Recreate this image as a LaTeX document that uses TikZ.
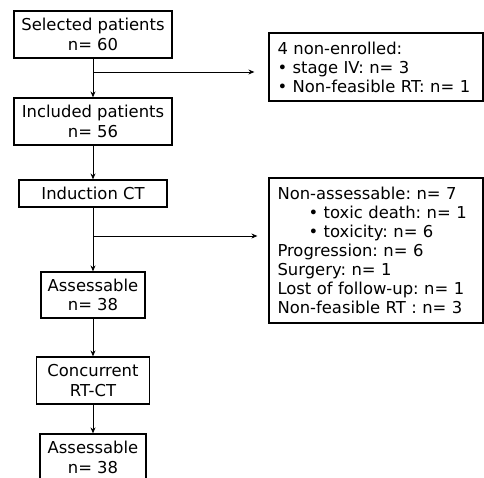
\documentclass[tikz,border=0pt]{standalone}
\usepackage{fontspec}
\setmainfont{DejaVu Sans}
\usetikzlibrary{arrows.meta}
\frenchspacing

\tikzset{
  stagebox/.style={draw, line width=1.2pt, align=center, inner sep=0pt,
    font=\fontsize{16.4}{19.5}\selectfont},
  notebox/.style={draw, line width=1.2pt, align=left, inner sep=0pt,
    text width=197pt, minimum width=214pt, font=\fontsize{16.4}{19}\selectfont},
  flow/.style={-{Stealth[length=6pt,width=5pt]}, line width=0.9pt},
}

\begin{document}
\begin{tikzpicture}[x=1pt, y=-1pt]
        \useasboundingbox (0,0) rectangle (484,477);
        \clip (0,0) rectangle (484,477);

        % main flow
        \node[stagebox, minimum width=158pt, minimum height=47pt] (sel) at (93, 34.5) {Selected patients\\n= 60};
        \node[stagebox, minimum width=158pt, minimum height=47pt] (inc) at (93, 121.5) {Included patients\\n= 56};
        \node[stagebox, minimum width=148pt, minimum height=27pt] (ind) at (93, 193.5) {Induction CT};
        \node[stagebox, minimum width=104pt, minimum height=46pt] (ass1) at (93, 295) {Assessable\\n= 38};
        \node[stagebox, minimum width=113pt, minimum height=47pt] (conc) at (93, 380.5) {Concurrent\\RT-CT};
        \node[stagebox, minimum width=106pt, minimum height=47pt] (ass2) at (93, 457.5) {Assessable\\n= 38};

        % side boxes
        \node[notebox, minimum height=68pt] (nonenr) at (376, 67) {4 non-enrolled:\\
            • stage IV: n= 3\\
            • Non-feasible RT: n= 1};
        \node[notebox, minimum height=145pt] (nonass) at (376, 250.5) {Non-assessable: n= 7\\
            \hspace*{31pt}• toxic death: n= 1\\
            \hspace*{31pt}• toxicity: n= 6\\
            Progression: n= 6\\
            Surgery: n= 1\\
            Lost of follow-up: n= 1\\
            Non-feasible RT : n= 3};

        \coordinate (br1) at (93, 72);
        \coordinate (br2) at (93, 236);

        \draw[flow] (sel) -- (inc);
        \draw[flow] (inc) -- (ind);
        \draw[flow] (ind) -- (ass1);
        \draw[flow] (ass1) -- (conc);
        \draw[flow] (conc) -- (ass2);

        \draw[flow, shorten >=14pt] (br1) -- (br1 -| nonenr.west);
        \draw[flow, shorten >=11pt] (br2) -- (br2 -| nonass.west);
    \end{tikzpicture}
\end{document}
